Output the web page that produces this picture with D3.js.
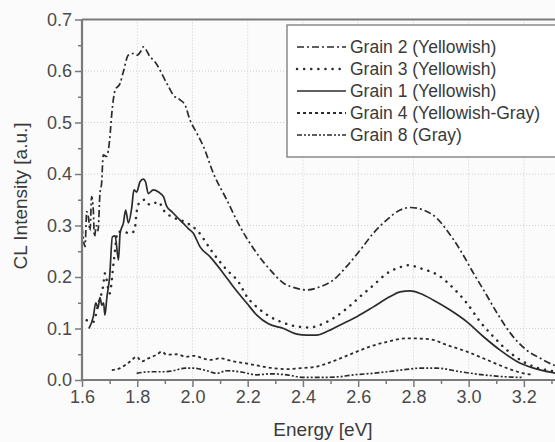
<!DOCTYPE html>
<html>
<head>
<meta charset="utf-8">
<script src="https://cdn.jsdelivr.net/npm/d3@7"></script>
<style>
  body { margin: 0; background: #fbfbfb; }
  svg { display: block; font-family: "Liberation Sans", Arial, sans-serif; }
</style>
</head>
<body>
<svg id="chart" width="555" height="442"></svg>
<script>
// Grain 2 (Yellowish) - dash dot
var grain2E = [1.600,1.611,1.617,1.623,1.629,1.635,1.641,1.645,1.652,1.658,1.665,1.671,1.677,1.689,1.700,1.708,1.720,1.738,1.750,1.768,1.786,1.800,1.816,1.822,1.846,1.864,1.907,1.931,1.955,1.973,1.991,2.016,2.040,2.076,2.124,2.166,2.233,2.281,2.330,2.378,2.414,2.462,2.510,2.559,2.607,2.655,2.704,2.752,2.788,2.837,2.885,2.921,2.970,3.018,3.054,3.103,3.151,3.210,3.260,3.308,3.330];
var grain2I = [0.298,0.259,0.327,0.317,0.290,0.356,0.330,0.278,0.300,0.290,0.362,0.382,0.437,0.434,0.466,0.518,0.563,0.576,0.599,0.631,0.634,0.631,0.641,0.647,0.628,0.618,0.576,0.553,0.544,0.534,0.505,0.479,0.453,0.401,0.350,0.304,0.246,0.214,0.188,0.178,0.175,0.181,0.194,0.221,0.252,0.285,0.311,0.330,0.335,0.330,0.314,0.291,0.252,0.207,0.175,0.130,0.091,0.058,0.042,0.029,0.025];

// Grain 3 (Yellowish) - dotted
var grain3E = [1.617,1.641,1.660,1.677,1.683,1.700,1.715,1.730,1.755,1.774,1.790,1.798,1.810,1.828,1.846,1.877,1.895,1.937,1.973,2.021,2.070,2.124,2.166,2.197,2.239,2.281,2.330,2.378,2.426,2.462,2.510,2.559,2.607,2.655,2.704,2.752,2.782,2.825,2.897,2.945,2.994,3.042,3.090,3.139,3.187,3.235,3.296,3.330];
var grain3I = [0.116,0.113,0.150,0.184,0.207,0.168,0.230,0.288,0.287,0.285,0.290,0.327,0.346,0.350,0.340,0.346,0.330,0.314,0.307,0.288,0.250,0.214,0.191,0.162,0.139,0.123,0.111,0.104,0.102,0.107,0.120,0.139,0.162,0.184,0.207,0.219,0.223,0.217,0.201,0.178,0.149,0.113,0.084,0.058,0.039,0.026,0.018,0.015];

// Grain 1 (Yellowish) - solid
var grain1E = [1.625,1.641,1.650,1.658,1.665,1.672,1.678,1.683,1.690,1.700,1.710,1.720,1.732,1.738,1.750,1.758,1.768,1.780,1.788,1.798,1.810,1.822,1.830,1.840,1.858,1.877,1.895,1.907,1.925,1.943,1.967,1.985,2.003,2.027,2.064,2.112,2.148,2.197,2.233,2.275,2.330,2.378,2.414,2.450,2.487,2.535,2.595,2.655,2.716,2.752,2.788,2.825,2.873,2.933,2.994,3.054,3.114,3.175,3.235,3.308,3.330];
var grain1I = [0.100,0.123,0.150,0.140,0.160,0.145,0.150,0.126,0.160,0.200,0.278,0.280,0.233,0.285,0.305,0.330,0.305,0.334,0.369,0.365,0.385,0.390,0.385,0.362,0.369,0.365,0.356,0.337,0.327,0.317,0.304,0.294,0.285,0.259,0.239,0.207,0.181,0.149,0.126,0.109,0.100,0.089,0.087,0.087,0.094,0.107,0.123,0.142,0.162,0.171,0.173,0.168,0.155,0.136,0.113,0.084,0.058,0.036,0.023,0.014,0.012];

// Grain 4 (Yellowish-Gray) - dashed
var grain4E = [1.708,1.738,1.774,1.798,1.816,1.840,1.870,1.889,1.907,1.943,1.979,2.003,2.064,2.100,2.148,2.197,2.245,2.293,2.342,2.390,2.438,2.487,2.535,2.595,2.643,2.704,2.776,2.861,2.921,2.994,3.067,3.139,3.199,3.235];
var grain4I = [0.019,0.023,0.036,0.045,0.036,0.042,0.049,0.055,0.049,0.050,0.045,0.047,0.039,0.042,0.036,0.032,0.027,0.023,0.021,0.023,0.025,0.032,0.042,0.055,0.065,0.074,0.081,0.079,0.068,0.055,0.039,0.023,0.013,0.010];

// Grain 8 (Gray) - dash dot dot
var grain8E = [1.798,1.846,1.895,1.931,1.973,2.003,2.052,2.088,2.124,2.172,2.233,2.281,2.342,2.402,2.462,2.523,2.583,2.655,2.752,2.825,2.885,2.970,3.054,3.139,3.199];
var grain8I = [0.013,0.016,0.016,0.018,0.023,0.023,0.018,0.013,0.018,0.016,0.010,0.012,0.010,0.005,0.005,0.006,0.010,0.013,0.019,0.023,0.023,0.016,0.010,0.006,0.005];

var seriesNames = ["Grain 2 (Yellowish)", "Grain 3 (Yellowish)", "Grain 1 (Yellowish)", "Grain 4 (Yellowish-Gray)", "Grain 8 (Gray)"];
var xTicks = [1.6, 1.8, 2.0, 2.2, 2.4, 2.6, 2.8, 3.0, 3.2];
var yTicks = [0.0, 0.1, 0.2, 0.3, 0.4, 0.5, 0.6, 0.7];

var series = [
  {name: seriesNames[0], e: grain2E, v: grain2I, dash: "7,3,2,3", cap: "butt", w: 1.7},
  {name: seriesNames[1], e: grain3E, v: grain3I, dash: "0.1,7", cap: "round", w: 2.5},
  {name: seriesNames[2], e: grain1E, v: grain1I, dash: null, cap: "butt", w: 1.7},
  {name: seriesNames[3], e: grain4E, v: grain4I, dash: "3,3", cap: "butt", w: 1.8},
  {name: seriesNames[4], e: grain8E, v: grain8I, dash: "5,2,2,2,2,2", cap: "butt", w: 1.7}
];

var svg = d3.select("#chart");
var margin = {top: 19.5, left: 82},
    width = 475, height = 360.5;

var g = svg.append("g").attr("transform", "translate(" + margin.left + "," + margin.top + ")");

var x = d3.scaleLinear().domain([1.6, 3.32]).range([0, width]);
var y = d3.scaleLinear().domain([0, 0.7]).range([height, 0]);

// grid
g.append("g").selectAll("line").data(xTicks.slice(1)).enter().append("line")
  .attr("x1", d => x(d)).attr("x2", d => x(d)).attr("y1", 0).attr("y2", height)
  .attr("stroke", "#cfcfcf").attr("stroke-dasharray", "1,2");
g.append("g").selectAll("line").data(yTicks.slice(1, -1)).enter().append("line")
  .attr("y1", d => y(d)).attr("y2", d => y(d)).attr("x1", 0).attr("x2", width)
  .attr("stroke", "#cfcfcf").attr("stroke-dasharray", "1,2");

// curves
var line = d3.line().curve(d3.curveMonotoneX)
  .x(d => x(d[0])).y(d => y(d[1]));

g.append("clipPath").attr("id", "clip").append("rect").attr("width", width).attr("height", height);

series.forEach(function(s) {
  g.append("path")
    .datum(s.e.map((e, i) => [e, s.v[i]]))
    .attr("clip-path", "url(#clip)")
    .attr("fill", "none")
    .attr("stroke", "#2b2b2b")
    .attr("stroke-width", s.w)
    .attr("stroke-linecap", s.cap)
    .attr("stroke-dasharray", s.dash)
    .attr("d", line);
});

// axes
var axisColor = "#7a7a7a";
var xMinor = d3.axisBottom(x).tickValues(d3.range(1.7, 3.35, 0.2)).tickSize(4).tickFormat("");
var xAxis = d3.axisBottom(x).tickValues(xTicks).tickSize(7).tickPadding(3).tickFormat(d3.format(".1f"));
var yMinor = d3.axisLeft(y).tickValues(d3.range(0.05, 0.7, 0.1)).tickSize(4).tickFormat("");
var yAxis = d3.axisLeft(y).tickValues(yTicks).tickSize(7).tickPadding(3).tickFormat(d3.format(".1f"));

function style(sel) {
  sel.select(".domain").remove();
  sel.selectAll("line").attr("stroke", axisColor).attr("stroke-width", 1.5);
  sel.selectAll("text").attr("fill", "#4a4a4a").style("font-size", "18px");
}

g.append("g").attr("transform", "translate(0," + height + ")").call(xMinor).call(style);
g.append("g").attr("transform", "translate(0," + height + ")").call(xAxis).call(style);
g.append("g").call(yMinor).call(style);
g.append("g").call(yAxis).call(style);

// frame
g.append("line").attr("x1", 0).attr("x2", width).attr("y1", height).attr("y2", height)
  .attr("stroke", axisColor).attr("stroke-width", 2.2);
g.append("line").attr("x1", 0).attr("x2", 0).attr("y1", 0).attr("y2", height)
  .attr("stroke", axisColor).attr("stroke-width", 2.2);
g.append("line").attr("x1", 0).attr("x2", width).attr("y1", 0).attr("y2", 0)
  .attr("stroke", axisColor).attr("stroke-width", 2);

// axis titles
svg.append("text").attr("x", 323).attr("y", 436).attr("text-anchor", "middle")
  .attr("fill", "#3a3a3a").style("font-size", "19px").text("Energy [eV]");
svg.append("text").attr("transform", "translate(27,196) rotate(-90)")
  .attr("text-anchor", "middle").attr("fill", "#3a3a3a").style("font-size", "19px")
  .text("CL Intensity [a.u.]");

// legend
var lg = svg.append("g").attr("transform", "translate(287,25)");
lg.append("rect").attr("width", 275).attr("height", 132)
  .attr("fill", "#ffffff").attr("stroke", "#8a8a8a").attr("stroke-width", 1.5);
series.forEach(function(s, i) {
  var yy = 22 + i * 22;
  lg.append("line").attr("x1", 10).attr("x2", 59).attr("y1", yy).attr("y2", yy)
    .attr("stroke", "#2b2b2b").attr("stroke-width", s.w)
    .attr("stroke-linecap", s.cap).attr("stroke-dasharray", s.dash);
  lg.append("text").attr("x", 63).attr("y", yy + 6).attr("fill", "#3a3a3a")
    .style("font-size", "17.5px").text(s.name);
});
</script>
</body>
</html>
